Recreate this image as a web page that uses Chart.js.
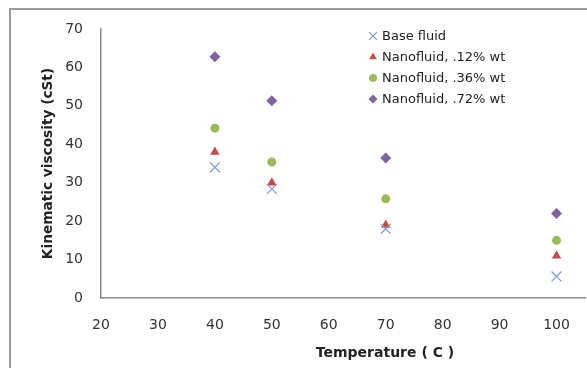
<!DOCTYPE html>
<html>
<head>
<meta charset="utf-8">
<script src="https://cdn.jsdelivr.net/npm/chart.js@4/dist/chart.umd.min.js"></script>
<style>
  html, body { margin: 0; padding: 0; background: #fff; overflow: hidden; }
  canvas { display: block; }
</style>
</head>
<body>
<canvas id="visc" width="587" height="368"></canvas>
<script>
// temperatures (C) and kinematic viscosity (cSt) for each fluid
const temps = [40, 50, 70, 100];
const baseFluid = [34, 28.4, 18, 5.6];
const nano12 = [38, 30, 19, 11];
const nano36 = [44.2, 35.4, 25.8, 15];
const nano72 = [62.8, 51.3, 36.4, 22];

const seriesNames = ['Base fluid', 'Nanofluid, .12% wt', 'Nanofluid, .36% wt', 'Nanofluid, .72% wt'];
const xTicks = [20, 30, 40, 50, 60, 70, 80, 90, 100];
const yTicks = [0, 10, 20, 30, 40, 50, 60, 70];
const xTitle = 'Temperature ( C )';
const yTitle = 'Kinematic viscosity (cSt)';

const FONT = 'DejaVu Sans';
const colours = ['#7F9BCB', '#C0504D', '#9BBB59', '#8064A2'];
const styles = ['crossRot', 'triangle', 'circle', 'rectRot'];
const radii = [7, 5.5, 4.5, 5.5];
const legendRadii = [5.5, 4.5, 4, 4.5];
const values = [baseFluid, nano12, nano36, nano72];

function pts(vals) {
  return temps.map((t, i) => ({ x: t, y: vals[i] }));
}

// outer chart frame (only top and left edges are in view)
const frame = {
  id: 'frame',
  beforeDraw(chart) {
    const ctx = chart.ctx;
    ctx.save();
    ctx.strokeStyle = '#9a9a9a';
    ctx.lineWidth = 2;
    ctx.beginPath();
    ctx.moveTo(10, chart.height);
    ctx.lineTo(10, 9);
    ctx.lineTo(chart.width, 9);
    ctx.stroke();
    ctx.restore();
  }
};

// legend drawn inside the plot, Excel style
const legendBox = {
  id: 'legendBox',
  afterDraw(chart) {
    const ctx = chart.ctx;
    const x0 = 373, y0 = 36, step = 21;
    ctx.save();
    ctx.textBaseline = 'middle';
    ctx.font = '13px "' + FONT + '"';
    chart.data.datasets.forEach((ds, i) => {
      const y = y0 + i * step;
      ctx.fillStyle = ds.backgroundColor;
      ctx.strokeStyle = ds.borderColor;
      ctx.lineWidth = 1.2;
      Chart.helpers.drawPoint(ctx, {
        pointStyle: ds.pointStyle,
        radius: legendRadii[i],
        rotation: 0,
        borderWidth: i === 0 ? 1.2 : 0
      }, x0, y);
      ctx.fillStyle = '#222';
      ctx.fillText(ds.label, x0 + 9, y + 1);
    });
    ctx.restore();
  }
};

// x axis title sits off-centre under the axis
const xAxisTitle = {
  id: 'xAxisTitle',
  afterDraw(chart) {
    const ctx = chart.ctx;
    ctx.save();
    ctx.font = 'bold 14px "' + FONT + '"';
    ctx.fillStyle = '#222';
    ctx.textAlign = 'center';
    ctx.textBaseline = 'middle';
    ctx.fillText(xTitle, 385, 353);
    ctx.restore();
  }
};

new Chart(document.getElementById('visc'), {
  type: 'scatter',
  data: {
    datasets: values.map((v, i) => ({
      label: seriesNames[i],
      data: pts(v),
      pointStyle: styles[i],
      pointRadius: radii[i],
      pointHoverRadius: radii[i],
      backgroundColor: colours[i],
      borderColor: colours[i],
      pointBorderWidth: i === 0 ? 1.2 : 0
    }))
  },
  options: {
    responsive: false,
    animation: false,
    layout: { autoPadding: false, padding: { top: 29, right: 2, left: 0, bottom: 0 } },
    plugins: {
      legend: { display: false },
      tooltip: { enabled: false }
    },
    scales: {
      x: {
        type: 'linear',
        min: 20,
        max: 105,
        grid: { display: false },
        border: { color: '#8a8a8a', width: 1.5 },
        ticks: {
          padding: 11,
          color: '#333',
          font: { family: FONT, size: 14 }
        },
        afterBuildTicks(s) { s.ticks = xTicks.map(v => ({ value: v })); },
        afterFit(s) {
          s.height = 70;
          s.paddingLeft = 0;
          s.paddingRight = 0;
        }
      },
      y: {
        min: 0,
        max: 70,
        grid: { display: false },
        border: { color: '#8a8a8a', width: 1.5 },
        ticks: {
          padding: 10,
          color: '#333',
          font: { family: FONT, size: 14 }
        },
        afterBuildTicks(s) { s.ticks = yTicks.map(v => ({ value: v })); },
        title: {
          display: true,
          text: yTitle,
          color: '#222',
          font: { family: FONT, size: 13.7, weight: 'bold' },
          padding: { top: 40, bottom: 0 }
        },
        afterFit(s) { s.width = 101; }
      }
    }
  },
  plugins: [frame, legendBox, xAxisTitle]
});
</script>
</body>
</html>
